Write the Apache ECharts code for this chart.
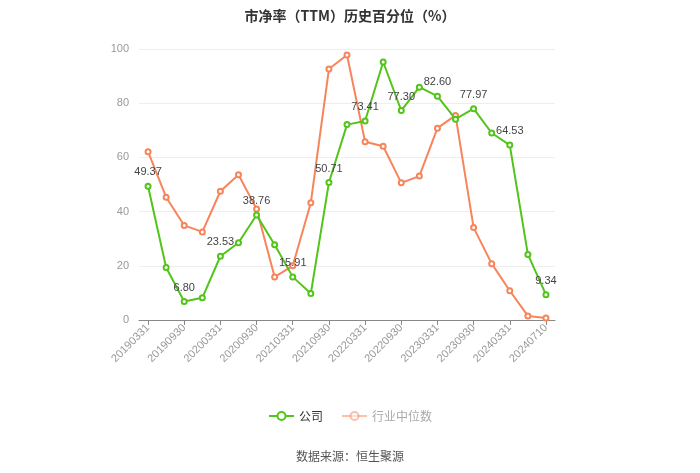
<!DOCTYPE html>
<html>
<head>
<meta charset="utf-8">
<script src="https://cdn.jsdelivr.net/npm/echarts@6/dist/echarts.min.js"></script>
<style>html,body{margin:0;padding:0;background:#fff}#c{width:700px;height:473px}</style>
</head>
<body>
<div id="c"></div>
<script>
var categories = ['20190331','20190630','20190930','20191231','20200331','20200630','20200930','20201231','20210331','20210630','20210930','20211231','20220331','20220630','20220930','20221231','20230331','20230630','20230930','20231231','20240331','20240630','20240710'];
var companyValues = [49.37,19.4,6.80,8.2,23.53,28.5,38.76,27.8,15.91,9.8,50.71,72.1,73.41,95.2,77.30,85.9,82.60,74.1,77.97,69.0,64.53,24.2,9.34];
var industryValues = [62.1,45.3,34.9,32.5,47.5,53.6,41.0,15.9,20.0,43.3,92.6,97.8,65.8,64.1,50.6,53.1,70.8,75.5,34.1,20.8,10.8,1.5,0.7];
var yTicks = [0,20,40,60,80,100];

var green = '#52c41a';
var orange = '#f7845a';
var chart = echarts.init(document.getElementById('c'));
chart.setOption({
  animation: false,
  title: {
    text: '市净率（TTM）历史百分位（%）',
    left: 'center', top: 4,
    textStyle: {fontSize: 14, fontWeight: 'bold', color: '#333', fontFamily: 'Noto Sans CJK SC'}
  },
  legend: {
    bottom: 46, left: 'center', itemWidth: 25, itemHeight: 10, itemGap: 18,
    textStyle: {fontSize: 12, color: '#333', fontFamily: 'Noto Sans CJK SC'},
    data: [
      {name: '公司'},
      {name: '行业中位数', textStyle: {color: '#aaa'}, itemStyle: {opacity: 0.5}, lineStyle: {opacity: 0.5}}
    ]
  },
  graphic: [{
    type: 'text', left: 'center', top: 450,
    style: {text: '数据来源：恒生聚源', fill: '#555', font: '12px "Noto Sans CJK SC"'}
  }],
  grid: {left: 139, right: 145, top: 49, bottom: 153},
  xAxis: {
    type: 'category', data: categories, boundaryGap: true,
    axisLine: {lineStyle: {color: '#888'}},
    axisTick: {show: true, alignWithLabel: true, interval: 1, lineStyle: {color: '#888'}},
    axisLabel: {interval: 1, rotate: 45, color: '#999', fontSize: 11, margin: 6}
  },
  yAxis: {
    type: 'value', min: yTicks[0], max: yTicks[yTicks.length-1], interval: 20,
    axisLine: {show: false}, axisTick: {show: false},
    axisLabel: {color: '#999', fontSize: 11, margin: 10},
    splitLine: {lineStyle: {color: '#eee'}}
  },
  series: [
    {
      name: '公司', type: 'line', data: companyValues,
      symbol: 'emptyCircle', symbolSize: 5, z: 3,
      lineStyle: {color: green, width: 2}, itemStyle: {color: green},
      label: {
        show: true, position: 'top', color: '#444', fontSize: 11,
        formatter: function(p){ return p.dataIndex % 2 === 0 ? p.value.toFixed(2) : ''; }
      }
    },
    {
      name: '行业中位数', type: 'line', data: industryValues,
      symbol: 'emptyCircle', symbolSize: 5, z: 2,
      lineStyle: {color: orange, width: 2}, itemStyle: {color: orange}
    }
  ]
});
</script>
</body>
</html>
